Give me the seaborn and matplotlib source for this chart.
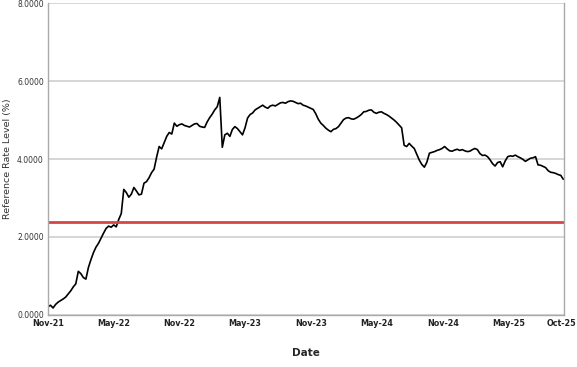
import pandas as pd
import numpy as np
import matplotlib
matplotlib.use("Agg")
import matplotlib.pyplot as plt
import matplotlib.transforms as mtransforms
import seaborn as sns

# weekly reference rate levels (%), starting 2021-11-01
start_date = "2021-11-01"
rate_level = [
    0.21, 0.25, 0.18, 0.27, 0.33, 0.37, 0.41, 0.46, 0.54, 0.62,
    0.72, 0.80, 1.12, 1.06, 0.96, 0.92, 1.22, 1.42, 1.60, 1.74,
    1.84, 1.97, 2.10, 2.22, 2.28, 2.25, 2.31, 2.26, 2.45, 2.60,
    3.22, 3.14, 3.02, 3.10, 3.27, 3.18, 3.08, 3.10, 3.38, 3.42,
    3.52, 3.65, 3.74, 4.05, 4.32, 4.26, 4.42, 4.58, 4.68, 4.64,
    4.92, 4.84, 4.88, 4.90, 4.86, 4.84, 4.82, 4.86, 4.90, 4.91,
    4.84, 4.82, 4.81, 4.95, 5.06, 5.15, 5.26, 5.34, 5.58, 4.30,
    4.62, 4.66, 4.58, 4.76, 4.83, 4.78, 4.70, 4.62, 4.80, 5.05,
    5.14, 5.18, 5.26, 5.30, 5.34, 5.38, 5.33, 5.30, 5.36, 5.38,
    5.36, 5.40, 5.44, 5.45, 5.43, 5.47, 5.49, 5.48, 5.45, 5.42,
    5.43, 5.38, 5.36, 5.33, 5.30, 5.27, 5.16, 5.02, 4.92, 4.86,
    4.79, 4.74, 4.70, 4.76, 4.78, 4.83, 4.92, 5.01, 5.05, 5.06,
    5.03, 5.02, 5.05, 5.09, 5.14, 5.21, 5.22, 5.25, 5.26, 5.20,
    5.17, 5.20, 5.21, 5.17, 5.14, 5.10, 5.05, 5.00, 4.94, 4.87,
    4.80, 4.35, 4.32, 4.40, 4.33, 4.27, 4.12, 3.97, 3.86, 3.79,
    3.92, 4.15, 4.17, 4.19, 4.22, 4.24, 4.27, 4.32, 4.26, 4.21,
    4.20, 4.23, 4.25, 4.22, 4.24, 4.21, 4.19, 4.20, 4.24, 4.27,
    4.24, 4.14, 4.09, 4.10, 4.06, 3.98, 3.88, 3.82, 3.91, 3.93,
    3.80, 3.95, 4.06, 4.08, 4.07, 4.10, 4.06, 4.03, 3.99, 3.94,
    3.98, 4.02, 4.03, 4.06, 3.85, 3.84, 3.81, 3.78, 3.70, 3.66,
    3.65, 3.63, 3.60, 3.58, 3.48,
]
threshold = 2.39

tick_dates = ["2021-11-01", "2022-05-01", "2022-11-01", "2023-05-01", "2023-11-01",
              "2024-05-01", "2024-11-01", "2025-05-01", "2025-10-01"]
tick_labels = ["Nov-21", "May-22", "Nov-22", "May-23", "Nov-23",
               "May-24", "Nov-24", "May-25", "Oct-25"]
y_ticks = [0, 2, 4, 6, 8]

df = pd.DataFrame({
    "Date": pd.date_range(start_date, periods=len(rate_level), freq="7D"),
    "Rate": rate_level,
})

sns.set_style("white")
fig = plt.figure(figsize=(5.77, 3.67), dpi=100)
ax = fig.add_axes([0.0832, 0.1417, 0.8943, 0.8501])

ax.grid(axis="y", color="#d3d3d3", linewidth=1.3)
ax.set_axisbelow(True)
sns.lineplot(data=df, x="Date", y="Rate", color="black", linewidth=1.2, ax=ax)
ax.axhline(threshold, color="#d64545", linewidth=2)

ax.set_xlim(pd.Timestamp(tick_dates[0]), pd.Timestamp(tick_dates[-1]))
ax.set_ylim(0, 8)
ax.set_xticks([pd.Timestamp(d) for d in tick_dates])
ax.set_xticklabels(tick_labels, fontsize=5.8, color="#222222", fontweight="bold")
ax.set_yticks(y_ticks)
ax.set_yticklabels([f"{v:.4f}" for v in y_ticks], fontsize=5.5, color="#333333")
ax.tick_params(axis="both", length=2, color="#999999", pad=1)

# keep the last date label inside the figure
last = ax.get_xticklabels()[-1]
last.set_transform(last.get_transform() + mtransforms.ScaledTranslation(-3 / 100, 0, fig.dpi_scale_trans))

for name, sp in ax.spines.items():
    sp.set_color("#aaaaaa")
    sp.set_linewidth(1)
ax.spines["top"].set_visible(False)

ax.set_xlabel("Date", fontsize=7.5, fontweight="bold", labelpad=14)
ax.set_ylabel("Reference Rate Level (%)", fontsize=6.8, color="#333333", labelpad=4)

fig.savefig("out.png", dpi=100)
